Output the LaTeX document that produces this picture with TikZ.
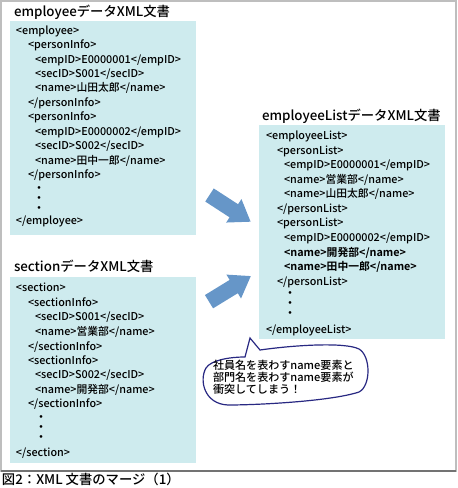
\documentclass[tikz,border=0pt]{standalone}
\usepackage{fontspec}
\setmainfont{Noto Sans CJK JP Medium}[BoldFont={Noto Sans CJK JP Bold}]
\begin{document}
\begin{tikzpicture}[x=0.75pt,y=-0.75pt,
  every node/.style={inner sep=0pt, outer sep=0pt},
  box/.style={fill=boxcyan},
  code/.style={anchor=base west, font=\fontsize{8.1}{10}\selectfont},
  title/.style={anchor=base west, font=\fontsize{10}{12}\selectfont},
  dotl/.style={anchor=center, font=\fontsize{9}{10}\selectfont},
  btext/.style={anchor=base west, font=\fontsize{8.3}{10}\selectfont},
  bigarrow/.style={fill=arrowblue},
  bubble/.style={draw=bubbleline, line width=0.9pt, fill=white}]
\definecolor{boxcyan}{RGB}{206,235,238}
\definecolor{arrowblue}{RGB}{102,150,200}
\definecolor{bubbleline}{RGB}{40,40,130}
\definecolor{framegray}{RGB}{190,190,190}
\useasboundingbox (0,0) rectangle (457,488);
% frame
\draw[framegray, line width=1.5pt] (1,1) rectangle (455.5,470.5);
\draw[gray!90!black, line width=0.9pt] (0.5,471) -- (456,471);

% employee
\node[title] (t1) at (14,17) {employeeデータXML文書};
\path[box] (10,21) rectangle (196,235);
\node[code] (e1) at (16,34.2) {<employee>};
\node[code] (e2) at (28,48.7) {<personInfo>};
\node[code] (e3) at (35,63.1) {<empID>E0000001</empID>};
\node[code] (e4) at (35,77.6) {<secID>S001</secID>};
\node[code] (e5) at (35,92) {<name>山田太郎</name>};
\node[code] (e6) at (28,106.5) {</personInfo>};
\node[code] (e7) at (28,120.9) {<personInfo>};
\node[code] (e8) at (35,135.4) {<empID>E0000002</empID>};
\node[code] (e9) at (35,149.8) {<secID>S002</secID>};
\node[code] (e10) at (35,164.3) {<name>田中一郎</name>};
\node[code] (e11) at (28,178.7) {</personInfo>};
\node[dotl] (ed1) at (39,189.3) {・};
\node[dotl] (ed2) at (39,199.3) {・};
\node[dotl] (ed3) at (39,209.3) {・};
\node[code] (e12) at (16,224.4) {</employee>};

% section
\node[title] (t2) at (14,271) {sectionデータXML文書};
\path[box] (10,277) rectangle (196,463);
\node[code] (s1) at (16,291.8) {<section>};
\node[code] (s2) at (28,306.2) {<sectionInfo>};
\node[code] (s3) at (35,320.8) {<secID>S001</secID>};
\node[code] (s4) at (35,335.2) {<name>営業部</name>};
\node[code] (s5) at (28,350.2) {</sectionInfo>};
\node[code] (s6) at (28,364.2) {<sectionInfo>};
\node[code] (s7) at (35,378.8) {<secID>S002</secID>};
\node[code] (s8) at (35,393.5) {<name>開発部</name>};
\node[code] (s9) at (28,407.8) {</sectionInfo>};
\node[dotl] (sd1) at (41,418.3) {・};
\node[dotl] (sd2) at (41,428.3) {・};
\node[dotl] (sd3) at (41,438.3) {・};
\node[code] (s10) at (16,456.8) {</section>};

% employeeList
\node[title] (t3) at (262,121) {employeeListデータXML文書};
\path[box] (259,125) rectangle (445,339);
\node[code] (l1) at (266,139.5) {<employeeList>};
\node[code] (l2) at (277,154.5) {<personList>};
\node[code] (l3) at (284,168.8) {<empID>E0000001</empID>};
\node[code] (l4) at (284,183.5) {<name>営業部</name>};
\node[code] (l5) at (284,197.8) {<name>山田太郎</name>};
\node[code] (l6) at (277,212.2) {</personList>};
\node[code] (l7) at (277,226.8) {<personList>};
\node[code] (l8) at (284,241.2) {<empID>E0000002</empID>};
\node[code, font=\fontsize{8.1}{10}\selectfont\bfseries] (l9) at (284,256.2) {<name>開発部</name>};
\node[code, font=\fontsize{8.1}{10}\selectfont\bfseries] (l10) at (284,270.2) {<name>田中一郎</name>};
\node[code] (l11) at (277,285.2) {</personList>};
\node[dotl] (ld1) at (290,295) {・};
\node[dotl] (ld2) at (290,305) {・};
\node[dotl] (ld3) at (290,315) {・};
\node[code] (l12) at (266,333.5) {</employeeList>};

% arrows
\fill[bigarrow, shift={(209.5,195)}, rotate=-33]
  (0,-7.8) -- (29,-7.8) -- (29,-14) -- (49,0) -- (29,14) -- (29,7.8) -- (0,7.8) -- cycle;
\fill[bigarrow, shift={(209,301.7)}, rotate=31.5]
  (0,-7.8) -- (29,-7.8) -- (29,-14) -- (49,0) -- (29,14) -- (29,7.8) -- (0,7.8) -- cycle;

% bubble
\coordinate (ptip) at (250,338);
\draw[bubble] (260,350) .. controls (295,345) and (345,342) .. (359,349)
  .. controls (371,356) and (371,386) .. (359,392)
  .. controls (332,401) and (260,405) .. (228,405)
  .. controls (204,404) and (199,380) .. (206,368)
  .. controls (211,360) and (230,357) .. (245,357) -- (ptip) -- cycle;
\node[btext] (b1) at (213,369.5) {社員名を表わすname要素と};
\node[btext] (b2) at (213,381) {部門名を表わすname要素が};
\node[btext] (b3) at (213,393) {衝突してしまう！};

% caption
\node[title] (cap) at (2,484) {図2：XML 文書のマージ（1）};
\end{tikzpicture}
\end{document}
